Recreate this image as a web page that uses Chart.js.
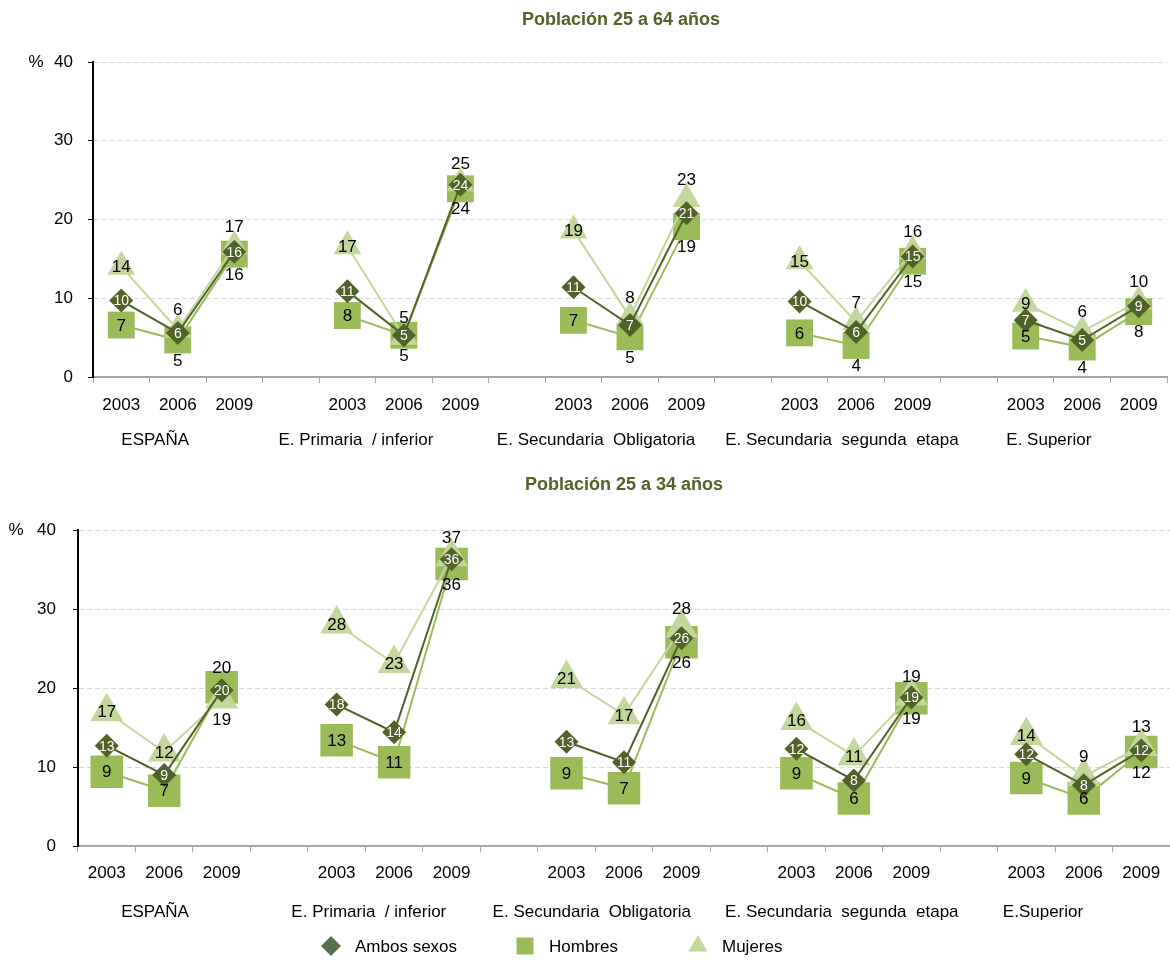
<!DOCTYPE html>
<html>
<head>
<meta charset="utf-8">
<script src="https://cdn.jsdelivr.net/npm/chart.js@4.4.1/dist/chart.umd.min.js"></script>
<style>
  body { margin: 0; background: #fff; }
  #wrap { position: relative; width: 1170px; height: 960px; }
  canvas { position: absolute; left: 0; }
</style>
</head>
<body>
<div id="wrap">
  <canvas id="chart64" width="1170" height="465" style="top:0"></canvas>
  <canvas id="chart34" width="1170" height="495" style="top:465px"></canvas>
</div>
<script>
"use strict";

// --- data ---
const years = ["2003", "2006", "2009"];
const groups64 = ["ESPAÑA", "E. Primaria  / inferior", "E. Secundaria  Obligatoria", "E. Secundaria  segunda  etapa", "E. Superior"];
const groups34 = ["ESPAÑA", "E. Primaria  / inferior", "E. Secundaria  Obligatoria", "E. Secundaria  segunda  etapa", "E.Superior"];
const yTicks = [0, 10, 20, 30, 40];

// Población 25 a 64 años
const ambos64 = [9.7, 5.6, 15.9, 10.9, 5.3, 24.4, 11.4, 6.6, 20.8, 9.6, 5.7, 15.3, 7.2, 4.7, 9.0];
const hombres64 = [6.6, 4.7, 15.6, 7.8, 5.3, 23.9, 7.2, 5.1, 19.1, 5.6, 4.0, 14.7, 5.2, 3.8, 8.3];
const mujeres64 = [14.0, 6.0, 16.6, 16.6, 5.1, 24.6, 18.6, 7.6, 22.6, 14.7, 7.0, 16.0, 9.3, 5.8, 9.6];

// Población 25 a 34 años
const ambos34 = [12.7, 9.0, 19.7, 17.9, 14.4, 36.3, 13.2, 10.6, 26.3, 12.3, 8.3, 18.8, 11.6, 7.7, 12.1];
const hombres34 = [9.4, 7.0, 20.1, 13.4, 10.6, 35.7, 9.2, 7.3, 25.8, 9.2, 6.0, 18.7, 8.6, 6.0, 11.9];
const mujeres34 = [17.0, 11.9, 18.6, 28.1, 23.1, 36.6, 21.2, 16.6, 27.6, 15.9, 11.4, 19.0, 14.0, 8.8, 12.6];

// --- styles ---
const DARK = "#4F6228", MID = "#9BBB59", LIGHT = "#C3D69B";
const FONT = "'Liberation Sans', Arial, sans-serif";

// label placement: c = centre, a = above, b = below (one letter per point)
const posAmbos = "ccccccccccccccc";
const posHom64 = "cbbcbbcbbcbbcbb";
const posMuj64 = "caacaacaacaacaa";
const posHom34 = "ccaccbccbccbccb";
const posMuj34 = "ccbccaccaccacaa";

// spread 3 years per group with an empty slot between groups
function toSlots(arr, nullVal) {
  const out = [];
  arr.forEach((v, i) => {
    out.push(v);
    if (i % 3 === 2 && i < arr.length - 1) out.push(nullVal);
  });
  return out;
}
const labels = toSlots(groups64.flatMap(() => years), "");

const valueLabels = {
  id: "valueLabels",
  afterDatasetsDraw(chart) {
    const ctx = chart.ctx;
    chart.data.datasets.forEach((ds, i) => {
      const meta = chart.getDatasetMeta(i);
      meta.data.forEach((pt, j) => {
        const v = ds.data[j];
        if (v === null || v === undefined) return;
        const p = ds.labelPos[j];
        let y = pt.y;
        if (p === "a") y -= 20;
        if (p === "b") y += 20;
        ctx.save();
        ctx.font = (ds.labelColor === "#fff" ? "14px " : "17px ") + FONT;
        ctx.fillStyle = ds.labelColor;
        ctx.textAlign = "center";
        ctx.textBaseline = "middle";
        ctx.fillText(String(Math.round(v)), pt.x, y + 1);
        ctx.restore();
      });
    });
  }
};

const deco = {
  id: "deco",
  afterDraw(chart, args, o) {
    const ctx = chart.ctx;
    const xs = chart.scales.x, ys = chart.scales.y;
    ctx.save();
    ctx.fillStyle = "#4F6228";
    ctx.font = "bold 18px " + FONT;
    ctx.textAlign = "center";
    ctx.textBaseline = "middle";
    ctx.fillText(o.title, o.titleX, o.titleY);

    ctx.fillStyle = "#000";
    ctx.font = "17px " + FONT;
    ctx.fillText("%", o.pctX, ys.getPixelForValue(40));

    o.groups.forEach((g, k) => {
      ctx.fillText(g, xs.getPixelForValue(o.groupAt[k]), o.groupY);
    });

    if (o.legend) {
      const items = [
        { t: "Ambos sexos", s: "rectRot", c: "#56704F", r: 10, x: 331 },
        { t: "Hombres", s: "rect", c: MID, r: 12, x: 525 },
        { t: "Mujeres", s: "triangle", c: LIGHT, r: 11, x: 698 }
      ];
      const ly = o.legendY;
      items.forEach(it => {
        ctx.fillStyle = it.c;
        Chart.helpers.drawPoint(ctx, { pointStyle: it.s, radius: it.r, borderWidth: 0, rotation: 0 }, it.x, ly);
        ctx.fillStyle = "#000";
        ctx.textAlign = "left";
        ctx.fillText(it.t, it.x + 24, ly + 1);
      });
    }
    ctx.restore();
  }
};

function series(label, data, pos, color, style, radius, order, labelColor) {
  return {
    label: label,
    data: toSlots(data, null),
    labelPos: toSlots(pos.split(""), "c"),
    labelColor: labelColor,
    borderColor: color,
    backgroundColor: color,
    pointBackgroundColor: color,
    pointBorderColor: color,
    pointBorderWidth: 0,
    pointStyle: style,
    pointRadius: radius,
    pointHoverRadius: radius,
    borderWidth: 2,
    spanGaps: false,
    tension: 0,
    clip: false,
    order: order
  };
}

function makeChart(id, a, h, m, posH, posM, sq, tri, cfg) {
  return new Chart(document.getElementById(id).getContext("2d"), {
    type: "line",
    data: {
      labels: labels,
      datasets: [
        series("Ambos sexos", a, posAmbos, DARK, "rectRot", 12, 0, "#fff"),
        series("Hombres", h, posH, MID, "rect", sq, 2, "#000"),
        series("Mujeres", m, posM, LIGHT, "triangle", tri, 1, "#000")
      ]
    },
    options: {
      responsive: false,
      animation: false,
      devicePixelRatio: 1,
      layout: { autoPadding: false, padding: { top: cfg.top, left: 0, right: cfg.right, bottom: 0 } },
      plugins: {
        legend: { display: false },
        tooltip: { enabled: false },
        deco: cfg.deco
      },
      scales: {
        x: {
          offset: true,
          grid: { offset: true, drawOnChartArea: false, color: "#A6A6A6", tickLength: 6 },
          border: { color: "#A6A6A6", width: 2 },
          ticks: { autoSkip: false, maxRotation: 0, color: "#000", font: { size: 17, family: FONT }, padding: cfg.xpad },
          afterFit: s => { s.height = cfg.xh; s.paddingLeft = 0; s.paddingRight = 0; }
        },
        y: {
          min: 0,
          max: 40,
          afterBuildTicks: s => { s.ticks = yTicks.map(v => ({ value: v })); },
          grid: { color: "#D9D9D9", tickColor: "#000", tickLength: 5, lineWidth: 1 },
          border: { color: "#000", width: 2, dash: [5, 3] },
          ticks: { color: "#000", font: { size: 17, family: FONT }, padding: cfg.ypad },
          afterFit: s => { s.width = cfg.yw; }
        }
      }
    },
    plugins: [valueLabels, deco]
  });
}

makeChart("chart64", ambos64, hombres64, mujeres64, posHom64, posMuj64, 19, 16, {
  top: 62, right: 3, xh: 88, yw: 93, ypad: 15, xpad: 12,
  deco: {
    title: "Población 25 a 64 años", titleX: 621, titleY: 20, pctX: 36,
    groups: groups64, groupAt: [0.6, 4.15, 8.4, 12.75, 16.41], groupY: 440, legend: false
  }
});

makeChart("chart34", ambos34, hombres34, mujeres34, posHom34, posMuj34, 23, 19, {
  top: 65, right: 0, xh: 114, yw: 78, ypad: 17, xpad: 11,
  deco: {
    title: "Población 25 a 34 años", titleX: 624, titleY: 20, pctX: 16,
    groups: groups34, groupAt: [0.84, 4.56, 8.44, 12.79, 16.29], groupY: 447,
    legend: true, legendY: 481
  }
});
</script>
</body>
</html>
